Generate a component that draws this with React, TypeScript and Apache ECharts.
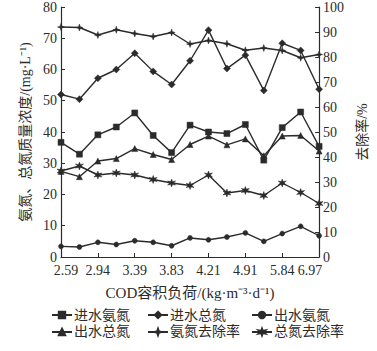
import React, { useEffect, useRef } from "react";
import * as echarts from "echarts";

const tickLabels = ["2.59", "2.94", "3.39", "3.83", "4.21", "4.91", "5.84", "6.97"];
// 15 sampling points; only every other one carries a printed label
const categories: string[] = [];
tickLabels.forEach((t, i) => {
  categories.push(t);
  if (i < tickLabels.length - 1) categories.push(" ".repeat(i + 1));
});

const inflowNH4 = [36.7, 32.9, 39.1, 41.6, 46.1, 38.9, 33.4, 42.2, 40, 39.5, 42.4, 31, 41.4, 46.4, 35.4];
const inflowTN = [52, 50.5, 57.2, 60, 65.2, 59.4, 55.2, 62.8, 72.6, 60.3, 64.6, 53.3, 68.4, 66.1, 53.7];
const outflowNH4 = [3.4, 3.2, 4.7, 4.0, 5.2, 4.7, 3.6, 6.1, 5.5, 6.4, 7.7, 5, 7.5, 9.8, 6.8];
const outflowTN = [27.4, 25.7, 30.7, 31.5, 34.7, 32.8, 31.2, 36, 38.7, 35.9, 37.8, 32.4, 38.7, 38.9, 33.9];
const nh4Removal = [92, 91.8, 88.8, 90.9, 89.4, 88.2, 89.8, 85.2, 86.6, 85.3, 82.7, 83.6, 82.6, 79.7, 81];
const tnRemoval = [34.4, 36.4, 32.8, 33.6, 32.8, 31, 29.6, 28.6, 32.8, 25.6, 26.6, 24.6, 29.6, 25.8, 21.4];

const FONT = "'Liberation Serif', 'Noto Sans CJK SC', serif";
const INK = "#2b2b2b";

const star4 = "path://M0,-10 L2.5,-2.5 L10,0 L2.5,2.5 L0,10 L-2.5,2.5 L-10,0 L-2.5,-2.5 Z";
const star6 =
  "path://M0,-10 L2,-3.5 L8.7,-5 L4,0 L8.7,5 L2,3.5 L0,10 L-2,3.5 L-8.7,5 L-4,0 L-8.7,-5 L-2,-3.5 Z";

export default function App() {
  const ref = useRef<HTMLDivElement>(null);
  useEffect(() => {
    if (!ref.current) return;
    const chart = echarts.init(ref.current, null, { renderer: "svg" });
    const mk = (name: string, data: number[], symbol: string, size: number, yAxisIndex = 0) => ({
      name,
      type: "line",
      data,
      yAxisIndex,
      symbol,
      symbolSize: size,
      showSymbol: true,
      lineStyle: { color: INK, width: 1.4 },
      itemStyle: { color: INK, borderColor: INK, borderWidth: 0.5 },
    });
    const legendBase = {
      orient: "vertical",
      top: 303,
      itemWidth: 20,
      itemHeight: 8,
      itemGap: 3,
      textStyle: { fontFamily: FONT, fontSize: 14, color: INK, padding: [0, 0, 0, -3] },
    };
    const tickFont = { fontFamily: FONT, fontSize: 14, color: INK };
    const yAxisCommon = {
      type: "value",
      min: 0,
      interval: 10,
      nameLocation: "middle",
      nameRotate: 90,
      nameTextStyle: { fontFamily: FONT, fontSize: 14, color: INK },
      axisLine: { show: true, lineStyle: { color: INK, width: 1.2 } },
      axisTick: { show: true, inside: true, length: 4, lineStyle: { color: INK } },
      axisLabel: { ...tickFont, margin: 4 },
      splitLine: { show: false },
    };
    const lastIdx = categories.length - 1;
    chart.setOption({
      animation: false,
      backgroundColor: "#ffffff",
      grid: { left: 61, right: 55, top: 6, bottom: 94 },
      legend: [
        { ...legendBase, left: 46, data: ["进水氨氮", "出水总氮"] },
        { ...legendBase, left: 142, data: ["进水总氮", "氨氮去除率"] },
        { ...legendBase, left: 246, data: ["出水氨氮", "总氮去除率"] },
      ],
      xAxis: {
        type: "category",
        data: categories,
        boundaryGap: false,
        name: "COD容积负荷/(kg·m⁻³·d⁻¹)",
        nameLocation: "middle",
        nameGap: 28,
        nameTextStyle: { fontFamily: FONT, fontSize: 15, color: INK },
        axisLine: { lineStyle: { color: INK, width: 1.2 } },
        axisTick: { show: true, inside: true, length: 4, interval: 1, lineStyle: { color: INK } },
        axisLabel: {
          interval: 1,
          ...tickFont,
          margin: 6,
          formatter: (v: string, i: number) =>
            i === 0 ? `{first|${v}}` : i === lastIdx ? `{last|${v}}` : v,
          rich: {
            first: { ...tickFont, padding: [0, 0, 0, 10] },
            last: { ...tickFont, padding: [0, 18, 0, 0] },
          },
        },
      },
      yAxis: [
        {
          ...yAxisCommon,
          max: 80,
          position: "left",
          name: "氨氮、总氮质量浓度/(mg·L⁻¹)",
          nameGap: 26,
        },
        {
          ...yAxisCommon,
          max: 100,
          position: "right",
          name: "去除率/%",
          nameGap: 24,
        },
      ],
      series: [
        mk("进水氨氮", inflowNH4, "rect", 6),
        mk("进水总氮", inflowTN, "diamond", 7),
        mk("出水氨氮", outflowNH4, "circle", 5),
        mk("出水总氮", outflowTN, "triangle", 6),
        mk("氨氮去除率", nh4Removal, star4, 7, 1),
        mk("总氮去除率", tnRemoval, star6, 8, 1),
      ],
    });
    return () => chart.dispose();
  }, []);
  return <div ref={ref} style={{ width: 377, height: 351, position: "absolute", left: 0, top: 0 }} />;
}
